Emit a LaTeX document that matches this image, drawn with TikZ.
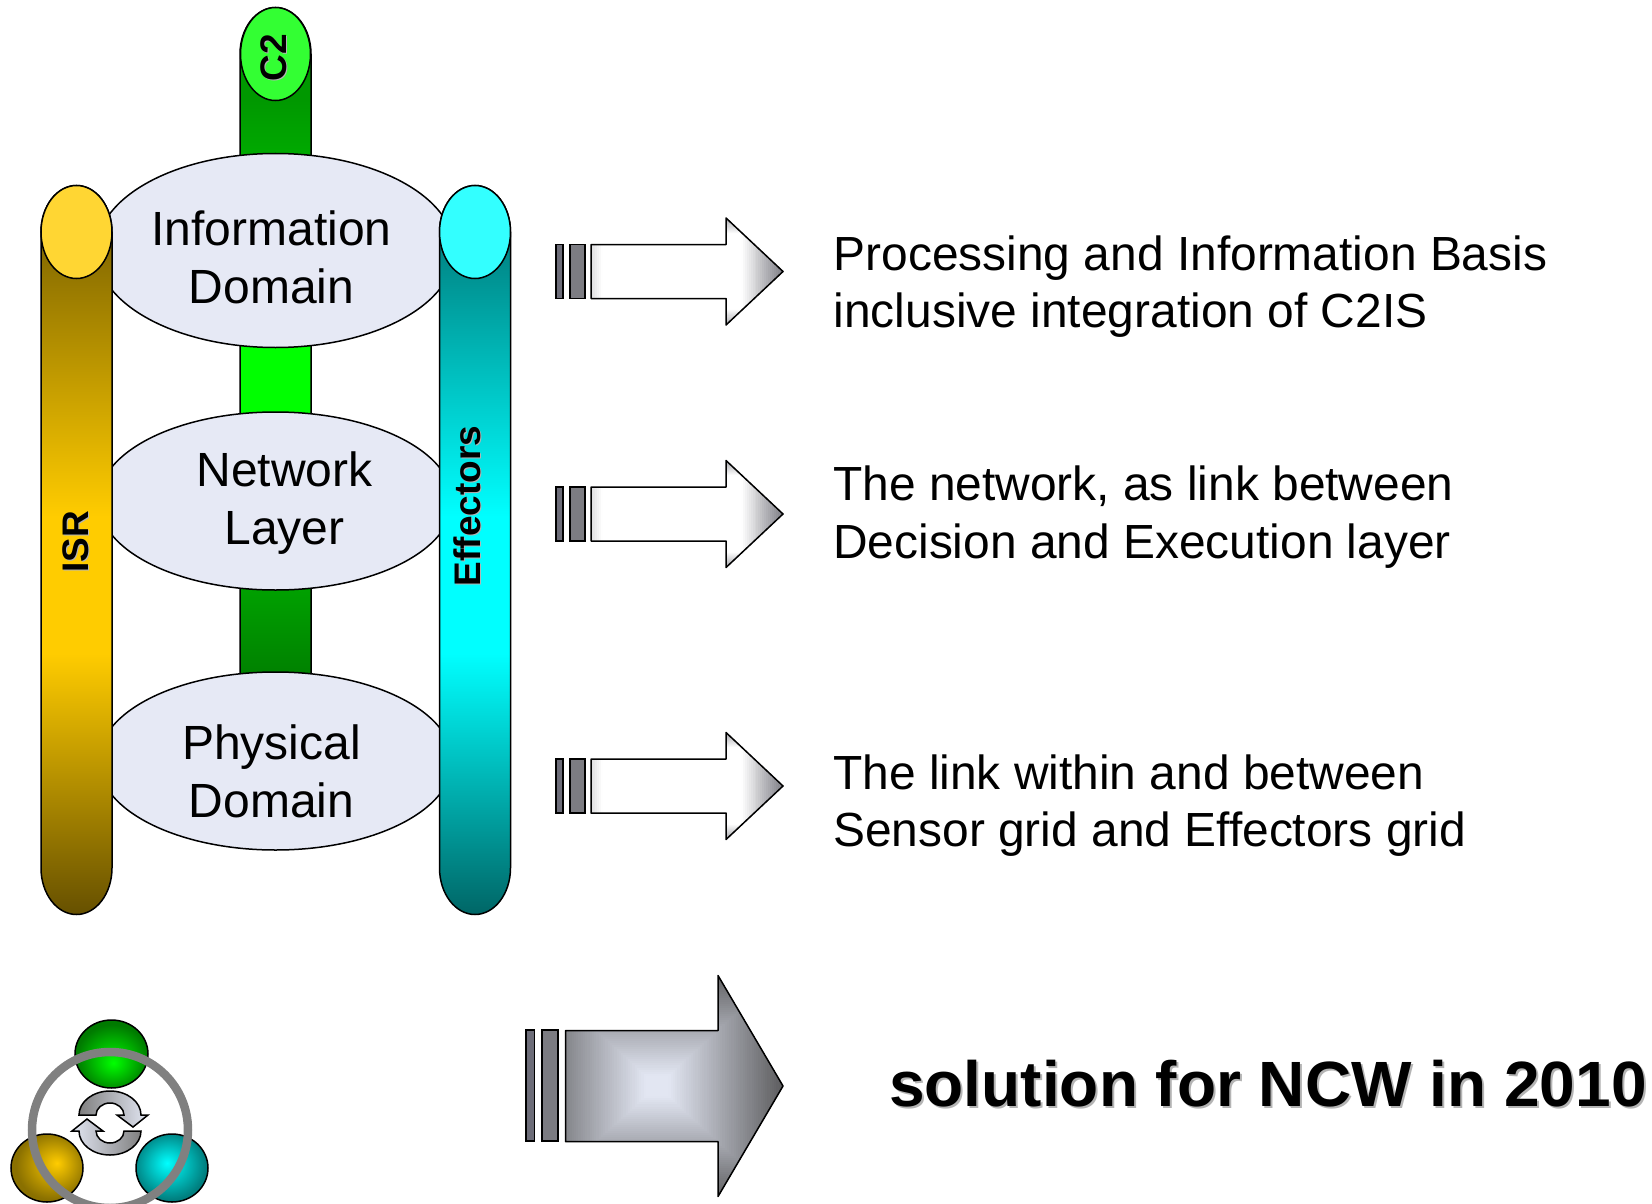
\documentclass[tikz,border=0pt]{standalone}
\usepackage{fontspec}
\setmainfont{Liberation Sans}
\definecolor{ell}{HTML}{E6E9F5}
\definecolor{barA}{HTML}{6C6C78}
\definecolor{barB}{HTML}{7C7C82}
\definecolor{ringc}{HTML}{808080}
\definecolor{lightb}{HTML}{E2E6F2}
\definecolor{darkg}{HTML}{5E5E60}
\definecolor{smalld}{HTML}{85858C}
\definecolor{gA}{HTML}{007F00}\definecolor{gB}{HTML}{00A000}\definecolor{gC}{HTML}{00FF00}\definecolor{gD}{HTML}{00A800}\definecolor{gE}{HTML}{009800}\definecolor{gF}{HTML}{33FF33}
\definecolor{isrT}{HTML}{6C5600}\definecolor{isrM}{HTML}{FFCC00}\definecolor{isrB}{HTML}{665000}\definecolor{isrH}{HTML}{FFD633}
\definecolor{effT}{HTML}{006A6A}\definecolor{effM}{HTML}{00FFFF}\definecolor{effB}{HTML}{006666}\definecolor{effH}{HTML}{33FFFF}
\definecolor{ballG}{HTML}{007A00}\definecolor{ballY}{HTML}{8A7000}\definecolor{ballC}{HTML}{007F7F}\definecolor{shadowc}{HTML}{B4B4B4}
\pgfdeclareverticalshading{ctwocol}{100bp}{color(0bp)=(gA); color(25bp)=(gA); color(31.7bp)=(gB); color(44.9bp)=(gC); color(49.9bp)=(gC); color(64.4bp)=(gD); color(68.1bp)=(gE); color(75bp)=(gE); color(100bp)=(gE)}
\pgfdeclareverticalshading{isrcol}{100bp}{color(0bp)=(isrB); color(25bp)=(isrB); color(42.9bp)=(isrM); color(52.3bp)=(isrM); color(75bp)=(isrT); color(100bp)=(isrT)}
\pgfdeclareverticalshading{effcol}{100bp}{color(0bp)=(effB); color(25bp)=(effB); color(42.9bp)=(effM); color(52.3bp)=(effM); color(75bp)=(effT); color(100bp)=(effT)}
\pgfdeclareradialshading{ballgreen}{\pgfpoint{1.4bp}{-6.6bp}}{color(0bp)=(gC); color(25bp)=(ballG); color(50bp)=(ballG)}
\pgfdeclareradialshading{ballyellow}{\pgfpoint{7bp}{3.7bp}}{color(0bp)=(isrM); color(25bp)=(ballY); color(50bp)=(ballY)}
\pgfdeclareradialshading{ballcyan}{\pgfpoint{-3.5bp}{3.7bp}}{color(0bp)=(effM); color(25bp)=(ballC); color(50bp)=(ballC)}
\tikzset{
  x=1pt,y=-1pt,
  outl/.style={draw=black,line width=1.5pt},
  domlabel/.style={font=\fontsize{48}{58}\selectfont,align=center,inner sep=0pt,anchor=center},
  desc/.style={font=\fontsize{47.9}{57.3}\selectfont,align=left,inner sep=0pt,anchor=west},
  vlabel/.style={font=\fontsize{37}{40}\selectfont\bfseries,rotate=90,inner sep=0pt,anchor=center},
  sol/.style={font=\fontsize{64}{70}\selectfont\bfseries,inner sep=0pt,anchor=base west},
}
% #1 xleft #2 xhead #3 xtip #4 ymid #5 half shaft #6 half head #7 cx #8 a #9 b ; colours in \gl \gd \gf
\newcommand{\gradarrow}[9]{%
  \begin{scope}
    \clip (#1,#4-#5) -- (#2,#4-#5) -- (#2,#4-#6) -- (#3,#4) -- (#2,#4+#6) -- (#2,#4+#5) -- (#1,#4+#5) -- cycle;
    \fill[\gd] (#1-5,#4-#6-5) rectangle (#3+5,#4+#6+5);
    \foreach \i in {0,...,70}{
      \pgfmathsetmacro\tv{1.25-1.25*\i/70}
      \pgfmathsetmacro\pct{100*max(0,min(1,(\tv-\gf)/(1-\gf)))}
      \fill[\gd!\pct!\gl] (#7-\tv*#8,#4-\tv*#9) rectangle (#7+\tv*#8,#4+\tv*#9);
    }
  \end{scope}
  \draw[outl,line join=round] (#1,#4-#5) -- (#2,#4-#5) -- (#2,#4-#6) -- (#3,#4) -- (#2,#4+#6) -- (#2,#4+#5) -- (#1,#4+#5) -- cycle;
}
\begin{document}
\begin{tikzpicture}
\useasboundingbox (0,0) rectangle (1652,1204);
% C2 column
\path[outl,shading=ctwocol] (240,54) -- (240,680) -- (311,680) -- (311,54) arc[start angle=0,end angle=180,x radius=35.5pt,y radius=46.5pt] -- cycle;
\filldraw[outl,fill=gF] (275.5,54) ellipse[x radius=35pt,y radius=46.5pt];
\node[vlabel,text=shadowc] (ctwoshadow) at (275,58.5) {C2};
\node[vlabel] (ctwo) at (274,57.5) {C2};
% domain ellipses
\filldraw[outl,fill=ell] (275.5,250.5) ellipse[x radius=179pt,y radius=97pt];
\filldraw[outl,fill=ell] (275.5,501) ellipse[x radius=177pt,y radius=89pt];
\filldraw[outl,fill=ell] (275.5,761) ellipse[x radius=177pt,y radius=89pt];
\node[domlabel] (info) at (271.5,257) {Information\\Domain};
\node[domlabel] (net) at (284.5,503) {Network\\Layer};
\node[domlabel] (phys) at (271.5,771) {Physical\\Domain};
% ISR column
\path[outl,shading=isrcol] (41,232) -- (41,868) arc[start angle=180,end angle=360,x radius=35.5pt,y radius=46.5pt] -- (112,232) arc[start angle=0,end angle=180,x radius=35.5pt,y radius=46.5pt] -- cycle;
\filldraw[outl,fill=isrH] (76.5,232) ellipse[x radius=35.5pt,y radius=46.5pt];
\node[vlabel,text=shadowc] (isrshadow) at (77,543) {ISR};
\node[vlabel] (isr) at (76,542) {ISR};
% Effectors column
\path[outl,shading=effcol] (439.5,232) -- (439.5,868) arc[start angle=180,end angle=360,x radius=35.5pt,y radius=46.5pt] -- (510.5,232) arc[start angle=0,end angle=180,x radius=35.5pt,y radius=46.5pt] -- cycle;
\filldraw[outl,fill=effH] (475,232) ellipse[x radius=35.5pt,y radius=46.5pt];
\node[vlabel,text=shadowc] (effshadow) at (468,507) {Effectors};
\node[vlabel] (eff) at (467,506) {Effectors};
% small arrows
\def\gl{white}\def\gd{smalld}\def\gf{0.64}
\foreach \yy in {271.5,514,786}{
  \filldraw[outl,fill=barA] (556,\yy-27) rectangle (563,\yy+27);
  \filldraw[outl,fill=barB] (570,\yy-27) rectangle (585,\yy+27);
  \gradarrow{591}{726}{783}{\yy}{27}{53.5}{672}{110}{60}
}
% large arrow
\def\gl{lightb}\def\gd{darkg}\def\gf{0.1}
\filldraw[outl,fill=barA] (526,1030) rectangle (534.5,1141);
\filldraw[outl,fill=barB] (542,1030) rectangle (558,1141);
\gradarrow{565.5}{718}{783}{1086}{55.5}{110.5}{657}{126}{115}
% descriptions
\node[desc] (dA) at (833.5,286.7) {Processing and Information Basis\\inclusive integration of C2IS};
\node[desc] (dB) at (833,517) {The network, as link between\\Decision and Execution layer};
\node[desc] (dC) at (833,805.5) {The link within and between\\Sensor grid and Effectors grid};
\node[sol,text=shadowc] (solshadow) at (891,1108) {solution for NCW in 2010};
\node[sol] (solt) at (889,1106) {solution for NCW in 2010};
% icon
\path[outl,shading=ballgreen] (111.5,1054) ellipse[x radius=36.5pt,y radius=34pt];
\path[outl,shading=ballyellow] (47,1168) ellipse[x radius=36pt,y radius=34pt];
\path[outl,shading=ballcyan] (172,1168) ellipse[x radius=36pt,y radius=34pt];
\draw[ringc,line width=8.5pt] (110,1130) circle[radius=78pt];
\path[outl,left color=ringc,right color=lightb] (79,1115) arc[start angle=180,end angle=0,x radius=31pt,y radius=24pt] -- (148,1115) -- (133,1127) -- (117,1115) -- (124,1115) arc[start angle=0,end angle=180,x radius=14pt,y radius=12pt] -- cycle;
\path[outl,right color=ringc,left color=lightb] (141,1131) arc[start angle=0,end angle=-180,x radius=31pt,y radius=24pt] -- (72,1131) -- (87,1119) -- (103,1131) -- (96,1131) arc[start angle=180,end angle=360,x radius=14pt,y radius=12pt] -- cycle;
\end{tikzpicture}
\end{document}
